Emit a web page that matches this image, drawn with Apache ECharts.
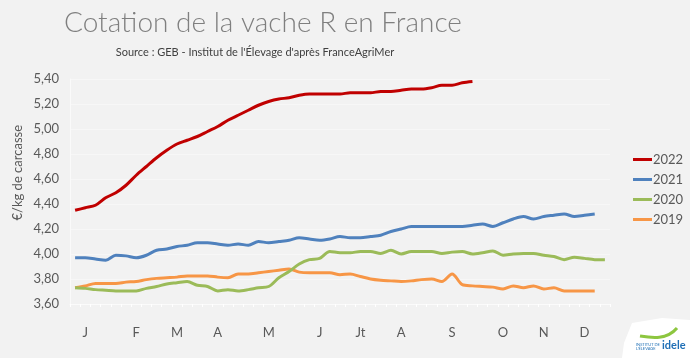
<!DOCTYPE html>
<html>
<head>
<meta charset="utf-8">
<script src="https://cdn.jsdelivr.net/npm/echarts@6/dist/echarts.min.js"></script>
<style>
html,body{margin:0;padding:0;background:#f2f2f2;}
#c{width:690px;height:358px;}
</style>
</head>
<body>
<div id="c"></div>
<script>
const weeks = ['1','2','3','4','5','6','7','8','9','10','11','12','13','14','15','16','17','18','19','20','21','22','23','24','25','26','27','28','29','30','31','32','33','34','35','36','37','38','39','40','41','42','43','44','45','46','47','48','49','50','51','52','53'];
const monthIdx = [1,6,10,14,19,24,28,32,37,42,46,50];
const monthTxt = ['J','F','M','A','M','J','Jt','A','S','O','N','D'];
const yTicks = [3.6,3.8,4.0,4.2,4.4,4.6,4.8,5.0,5.2,5.4];

const v2022 = [4.35,4.37,4.39,4.45,4.49,4.55,4.63,4.70,4.77,4.83,4.88,4.91,4.94,4.98,5.02,5.07,5.11,5.15,5.19,5.22,5.24,5.25,5.27,5.28,5.28,5.28,5.28,5.29,5.29,5.29,5.30,5.30,5.31,5.32,5.32,5.33,5.35,5.35,5.37,5.38];
const v2021 = [3.97,3.97,3.96,3.95,3.99,3.985,3.97,3.99,4.03,4.04,4.06,4.07,4.09,4.09,4.08,4.07,4.08,4.07,4.10,4.09,4.10,4.11,4.13,4.12,4.11,4.12,4.14,4.13,4.13,4.14,4.15,4.18,4.20,4.22,4.22,4.22,4.22,4.22,4.22,4.23,4.24,4.22,4.25,4.28,4.30,4.28,4.30,4.31,4.32,4.30,4.31,4.32];
const v2020 = [3.73,3.725,3.715,3.71,3.705,3.705,3.705,3.725,3.74,3.76,3.77,3.78,3.75,3.74,3.705,3.715,3.705,3.715,3.73,3.74,3.81,3.86,3.92,3.955,3.965,4.02,4.01,4.01,4.02,4.02,4.005,4.03,4.00,4.02,4.02,4.02,4.005,4.015,4.02,4.00,4.01,4.025,3.99,4.00,4.005,4.005,3.99,3.98,3.955,3.975,3.965,3.955,3.955];
const v2019 = [3.73,3.745,3.765,3.765,3.765,3.775,3.78,3.795,3.805,3.81,3.815,3.825,3.825,3.825,3.815,3.81,3.84,3.84,3.85,3.86,3.87,3.88,3.855,3.85,3.85,3.85,3.835,3.84,3.82,3.80,3.79,3.785,3.78,3.785,3.795,3.80,3.78,3.84,3.755,3.745,3.74,3.735,3.72,3.745,3.73,3.745,3.72,3.73,3.705,3.705,3.705,3.705];

const seriesNames = ['2022','2021','2020','2019'];
const seriesData = [v2022, v2021, v2020, v2019];
const colors = ['#c00000','#4f81bd','#9bbb59','#f79646'];

const FONT = 'Lato, "Noto Sans", sans-serif';
const chart = echarts.init(document.getElementById('c'));
const labelMap = {};
monthIdx.forEach((i,k)=>{ labelMap[i] = monthTxt[k]; });

chart.setOption({
  backgroundColor: '#f2f2f2',
  animation: false,
  title: [{
    text: 'Cotation de la vache R en France',
    left: 258, top: 4, textAlign: 'center',
    textStyle: {fontFamily: FONT, fontWeight: 300, fontSize: 28, color: '#7f7f7f'}
  },{
    text: "Source : GEB - Institut de l'Élevage d'après FranceAgriMer",
    left: 250, top: 42, textAlign: 'center',
    textStyle: {fontFamily: FONT, fontWeight: 'normal', fontSize: 11, color: '#404040'}
  }],
  legend: {
    orient: 'vertical', left: 628, top: 148, itemGap: 7,
    itemWidth: 19, itemHeight: 3, icon: 'rect',
    textStyle: {fontFamily: FONT, fontSize: 13, color: '#595959', padding:[0,0,0,-4]},
    data: seriesNames
  },
  grid: {left: 70, right: 80, top: 79, bottom: 54, containLabel: false},
  xAxis: {
    type: 'category', data: weeks, boundaryGap: true,
    axisLine: {show: true, lineStyle: {color: '#fbfbfb', width: 1}},
    axisTick: {show: true, interval: 0, length: 3, lineStyle: {color: '#ffffff', width: 1}},
    axisLabel: {
      interval: 0, margin: 22, fontFamily: FONT, fontSize: 13, color: '#595959',
      formatter: (v, i) => labelMap[i] || ''
    },
    splitLine: {show: false}
  },
  yAxis: {
    type: 'value', min: 3.6, max: 5.4, interval: 0.2,
    axisLine: {show: true, lineStyle: {color: '#fafafa'}},
    axisTick: {show: false},
    axisLabel: {margin: 11, fontFamily: FONT, fontSize: 13, color: '#595959',
      formatter: v => v.toFixed(2).replace('.', ',')},
    splitLine: {show: true, lineStyle: {color: '#f7f7f7', width: 1}}
  },
  graphic: [{
    type: 'text', left: 11, top: 125, rotation: Math.PI/2,
    style: {text: '€/kg de carcasse', font: '13px ' + FONT, fill: '#595959'}
  },{
    type: 'group', left: 622, top: 318,
    children: [
      {type: 'polygon', shape: {points: [[10,5],[40,0],[68,2],[68,40],[0,40],[2,25]]}, style: {fill: '#ffffff'}},
      {type: 'bezierCurve', shape: {x1: 18, y1: 18, x2: 55, y2: 10, cpx1: 30, cpy1: 20, cpx2: 45, cpy2: 22}, style: {stroke: '#8dc63f', lineWidth: 3, fill: 'none'}},
      {type: 'text', style: {x: 40, y: 22, text: 'idele', font: 'bold 11px ' + FONT, fill: '#1f6fb6'}},
      {type: 'text', style: {x: 14, y: 25, text: 'INSTITUT DE\nL\'ÉLEVAGE', font: '4px ' + FONT, fill: '#1f6fb6'}}
    ]
  }],
  series: seriesData.map((d, k) => ({
    name: seriesNames[k], type: 'line', data: d,
    smooth: 0.3, symbol: 'none',
    lineStyle: {color: colors[k], width: 3},
    itemStyle: {color: colors[k]},
    z: 10 - k
  }))
});
</script>
</body>
</html>
